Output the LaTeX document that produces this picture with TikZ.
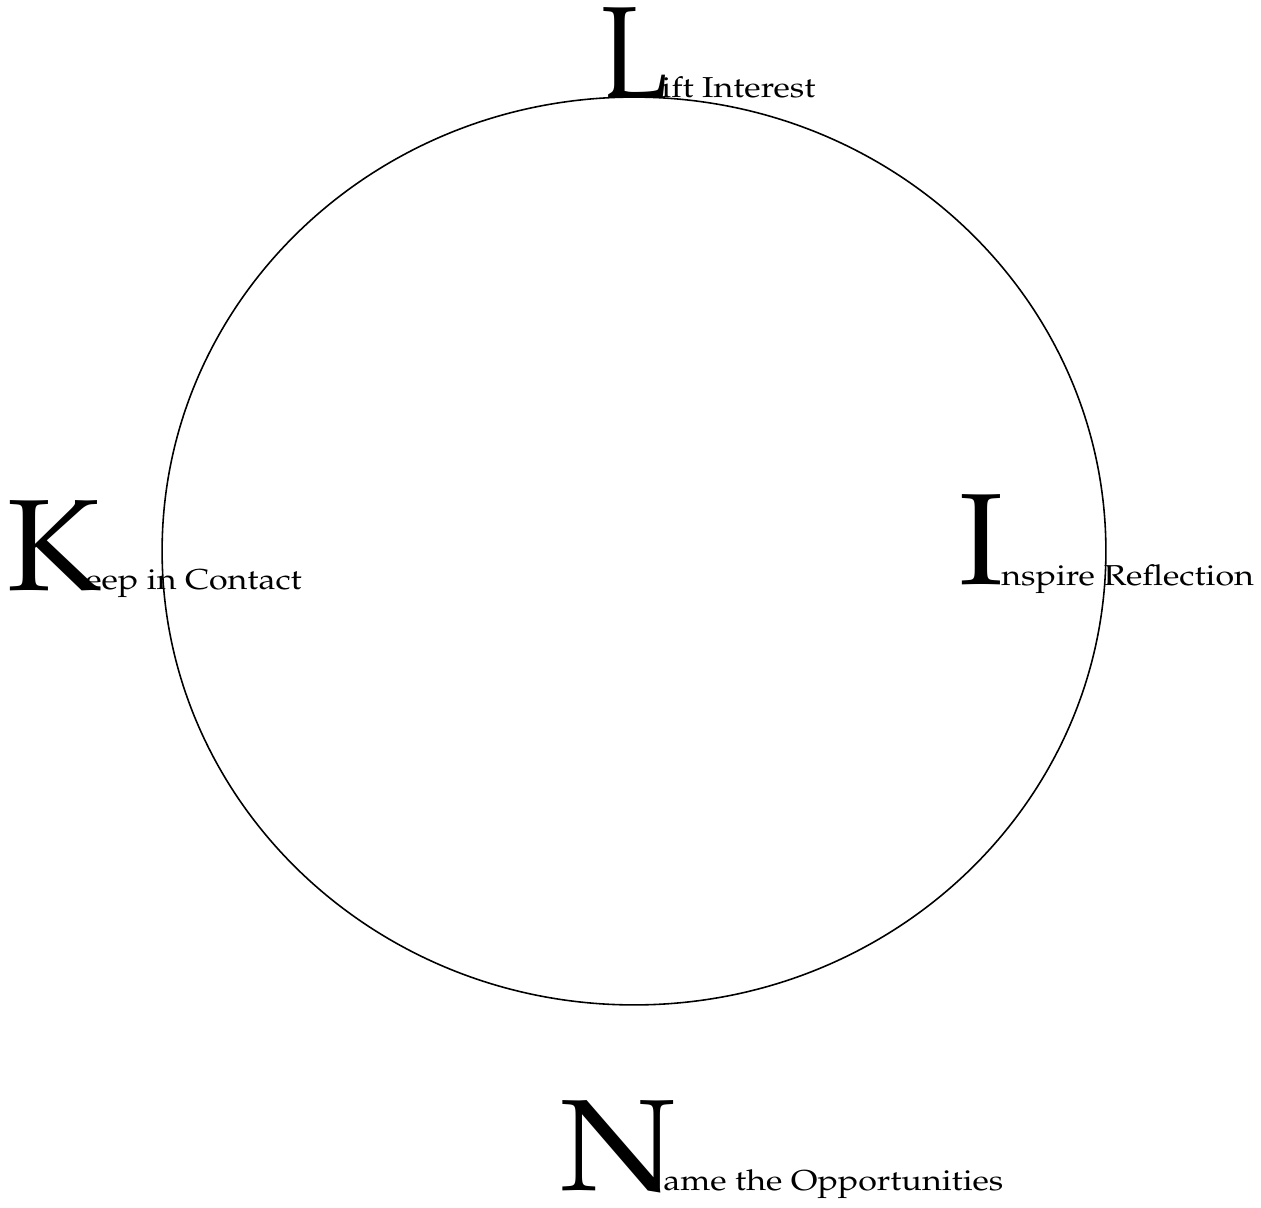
\documentclass[tikz,border=0pt]{standalone}
\usepackage[T1]{fontenc}
\usepackage{mathpazo}
\usepackage{graphicx}
\usepackage{tikz}
\usetikzlibrary{positioning}

\newcommand{\widetext}[1]{\scalebox{1.18}[1]{#1}}

\begin{document}
\begin{tikzpicture}[
    x=0.02cm, y=-0.02cm,
    initial/.style={anchor=base west, inner sep=0pt, font=\fontsize{74}{74}\selectfont},
    gist/.style={anchor=base west, inner sep=0pt, font=\fontsize{16.4}{18}\selectfont},
    ring/.style={draw, line width=0.9pt},
]
\useasboundingbox (0,0) rectangle (1261,1207);

% --- Cycle ---
\coordinate (hub) at (634,551);
\draw[ring] (hub) ellipse [x radius=9.44cm, y radius=9.08cm];

% --- Top ---
\node[initial] (lift) at (601,97) {\scalebox{0.84}[1]{L}};
\node[gist] (liftT) at (661,97) {\widetext{ift Interest}};

% --- Right ---
\node[initial] (insp) at (959,584) {I};
\node[gist] (inspT) at (1001,585) {\widetext{nspire Reflection}};

% --- Bottom ---
\node[initial] (name) at (560,1190) {\scalebox{1.07}[1]{N}};
\node[gist] (nameT) at (663,1190) {\widetext{ame the Opportunities}};

% --- Left ---
\node[initial] (keep) at (7,590) {K};
\node[gist] (keepT) at (85,589) {\widetext{eep in Contact}};
\end{tikzpicture}
\end{document}
